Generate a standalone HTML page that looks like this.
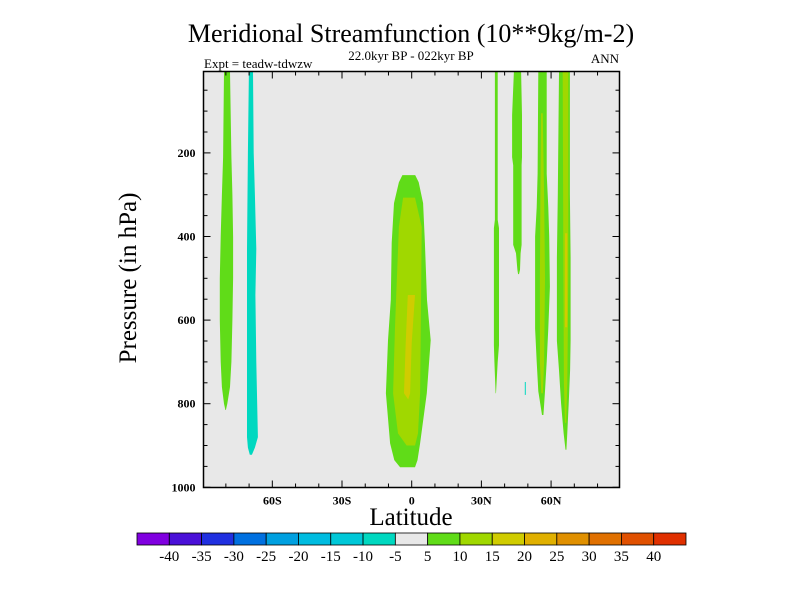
<!DOCTYPE html>
<html><head><meta charset="utf-8"><style>
body{margin:0;background:#fff;}
svg text{font-family:"Liberation Serif",serif;fill:#000;}
</style></head><body>
<svg width="800" height="600" viewBox="0 0 800 600" xmlns="http://www.w3.org/2000/svg">
<text x="411" y="42" font-size="26" text-anchor="middle">Meridional Streamfunction (10**9kg/m-2)</text>
<text x="411" y="60" font-size="13" text-anchor="middle">22.0kyr BP - 022kyr BP</text>
<text x="204" y="68" font-size="13">Expt = teadw-tdwzw</text>
<text x="619" y="63" font-size="13" text-anchor="end">ANN</text>
<text transform="translate(136,278) rotate(-90)" font-size="25" text-anchor="middle">Pressure (in hPa)</text>
<text x="411" y="525" font-size="25" text-anchor="middle">Latitude</text>
<g id="plot"></g>
<g id="cbar"></g>
</svg>
<script>
const latTicks=[-60,-30,0,30,60];
const latTickLabels=["60S","30S","0","30N","60N"];
const presTicks=[200,400,600,800,1000];
const levelLabels=["-40","-35","-30","-25","-20","-15","-10","-5","5","10","15","20","25","30","35","40"];
const levelColors=["#8000e0","#4a10d8","#2030e0","#0070e0","#00a0e0","#00bce0","#00c8d8","#00d8c0","#e8e8e8","#60dc18","#a0d800","#d0cc00","#e0b000","#e09000","#e07000","#e05000","#e03000"];
// each blob: level index + rows [pressure, latWest, latEast]
const blobLevels=[9,7,9,10,11,9,9,9,10,9,10,11,7];
const blobRows=[
[[4,-80.8,-78.2],[210,-81.2,-77.6],[300,-81.7,-77.2],[400,-82.2,-76.9],[500,-82.6,-76.9],[600,-82.6,-77.2],[700,-82.2,-77.6],[760,-81.7,-78.2],[800,-80.8,-79.4],[815,-80.2,-80.0]],
[[4,-70.1,-68.3],[200,-70.5,-68.0],[300,-70.7,-67.5],[430,-70.9,-66.9],[540,-70.9,-67.3],[700,-70.9,-66.9],[880,-70.9,-66.2],[905,-70.5,-67.5],[922,-69.7,-68.8]],
[[253,-4.0,1.5],[270,-5.5,3.0],[320,-7.6,4.9],[415,-8.6,5.7],[552,-9.0,6.6],[648,-10.2,8.2],[775,-11.1,6.5],[895,-9.3,3.6],[935,-7.5,2.5],[952,-5.0,1.4]],
[[307,-3.7,1.4],[377,-5.5,4.3],[617,-7.2,3.9],[775,-8.0,3.6],[871,-5.9,2.7],[900,-2.2,1.4]],
[[540,-1.7,1.4],[655,-2.6,0.0],[775,-3.3,-0.7],[790,-1.5,-1.5]],
[[4,35.8,37.0],[360,35.8,37.0],[380,35.4,37.6],[660,35.4,37.6],[700,35.6,37.0],[775,36.1,36.3]],
[[4,44.0,47.1],[110,43.2,47.5],[210,43.2,47.5],[230,43.7,47.3],[420,43.7,47.3],[440,44.9,46.9],[480,45.5,46.6],[490,45.8,46.2]],
[[4,54.5,58.1],[250,54.2,58.1],[330,53.8,58.8],[400,53.1,59.2],[520,53.1,59.5],[620,53.1,58.8],[700,53.8,58.1],[770,54.5,57.4],[810,55.6,56.9],[827,56.1,56.7]],
[[105,55.7,56.4],[300,55.4,57.0],[500,55.2,57.4],[700,55.2,57.0],[775,55.8,56.5]],
[[4,63.4,68.1],[300,62.9,68.1],[450,62.5,68.4],[650,62.5,68.4],[720,63.4,68.2],[800,64.3,67.6],[870,65.4,67.0],[910,66.2,66.6]],
[[4,65.0,67.4],[500,65.3,67.4],[750,65.5,67.0],[846,66.0,66.5]],
[[392,66.0,67.0],[617,66.0,67.0]],
[[748,48.7,49.1],[779,48.7,49.1]]
];
const NS="http://www.w3.org/2000/svg";
const X0=203.5,X1=619.5,Y0=71.5,Y1=487.5;
function xs(lat){return 411.7+(lat)*2.323;}
function ys(p){return 487.3-(1000-p)*0.418;}
function mk(tag,attrs,parent){const e=document.createElementNS(NS,tag);for(const k in attrs)e.setAttribute(k,attrs[k]);parent.appendChild(e);return e;}
const plot=document.getElementById('plot');
const bg=mk('rect',{x:X0,y:Y0,width:X1-X0,height:Y1-Y0,fill:'#e8e8e8'},plot);


blobRows.forEach((rows,i)=>{
  const left=rows.map(r=>xs(r[1]).toFixed(1)+','+Math.max(Y0,ys(r[0])).toFixed(1));
  const right=rows.slice().reverse().map(r=>xs(r[2]).toFixed(1)+','+Math.max(Y0,ys(r[0])).toFixed(1));
  const pg=mk('polygon',{points:left.concat(right).join(' '),fill:levelColors[blobLevels[i]]},plot);
  
  
});
const fr=mk('rect',{x:X0,y:Y0,width:X1-X0,height:Y1-Y0,fill:'none',stroke:'#000','stroke-width':1.5},plot);


// x ticks
for(let lat=-80;lat<=80;lat+=10){
  const major=lat%30===0;const L=major?7:4;const x=xs(lat);
  mk('line',{x1:x,x2:x,y1:Y1,y2:Y1-L,stroke:'#000'},plot);
  mk('line',{x1:x,x2:x,y1:Y0,y2:Y0+L,stroke:'#000'},plot);
}
latTicks.forEach((lat,i)=>{
  const t=mk('text',{x:xs(lat),y:Y1+17,'font-size':12,'font-weight':'bold','text-anchor':'middle'},plot);
  t.textContent=latTickLabels[i];
  
  
});
for(let p=50;p<=1000;p+=50){
  const major=p%200===0;const L=major?7:4;const y=ys(p);
  mk('line',{x1:X0,x2:X0+L,y1:y,y2:y,stroke:'#000'},plot);
  mk('line',{x1:X1,x2:X1-L,y1:y,y2:y,stroke:'#000'},plot);
}
presTicks.forEach(p=>{
  const t=mk('text',{x:X0-8,y:ys(p)+4,'font-size':12,'font-weight':'bold','text-anchor':'end'},plot);
  t.textContent=String(p);
  
  
});
// colorbar
const cb=document.getElementById('cbar');
const CX=137,CW=549,CY=533,CH=12,bw=CW/levelColors.length;
levelColors.forEach((c,i)=>{
  const r=mk('rect',{x:CX+i*bw,y:CY,width:bw,height:CH,fill:c,stroke:'#000','stroke-width':0.8},cb);
  
  
});
levelLabels.forEach((s,i)=>{
  const t=mk('text',{x:CX+(i+1)*bw,y:CY+28,'font-size':15,'text-anchor':'middle'},cb);
  t.textContent=s;
  
  
});
</script>
</body></html>
